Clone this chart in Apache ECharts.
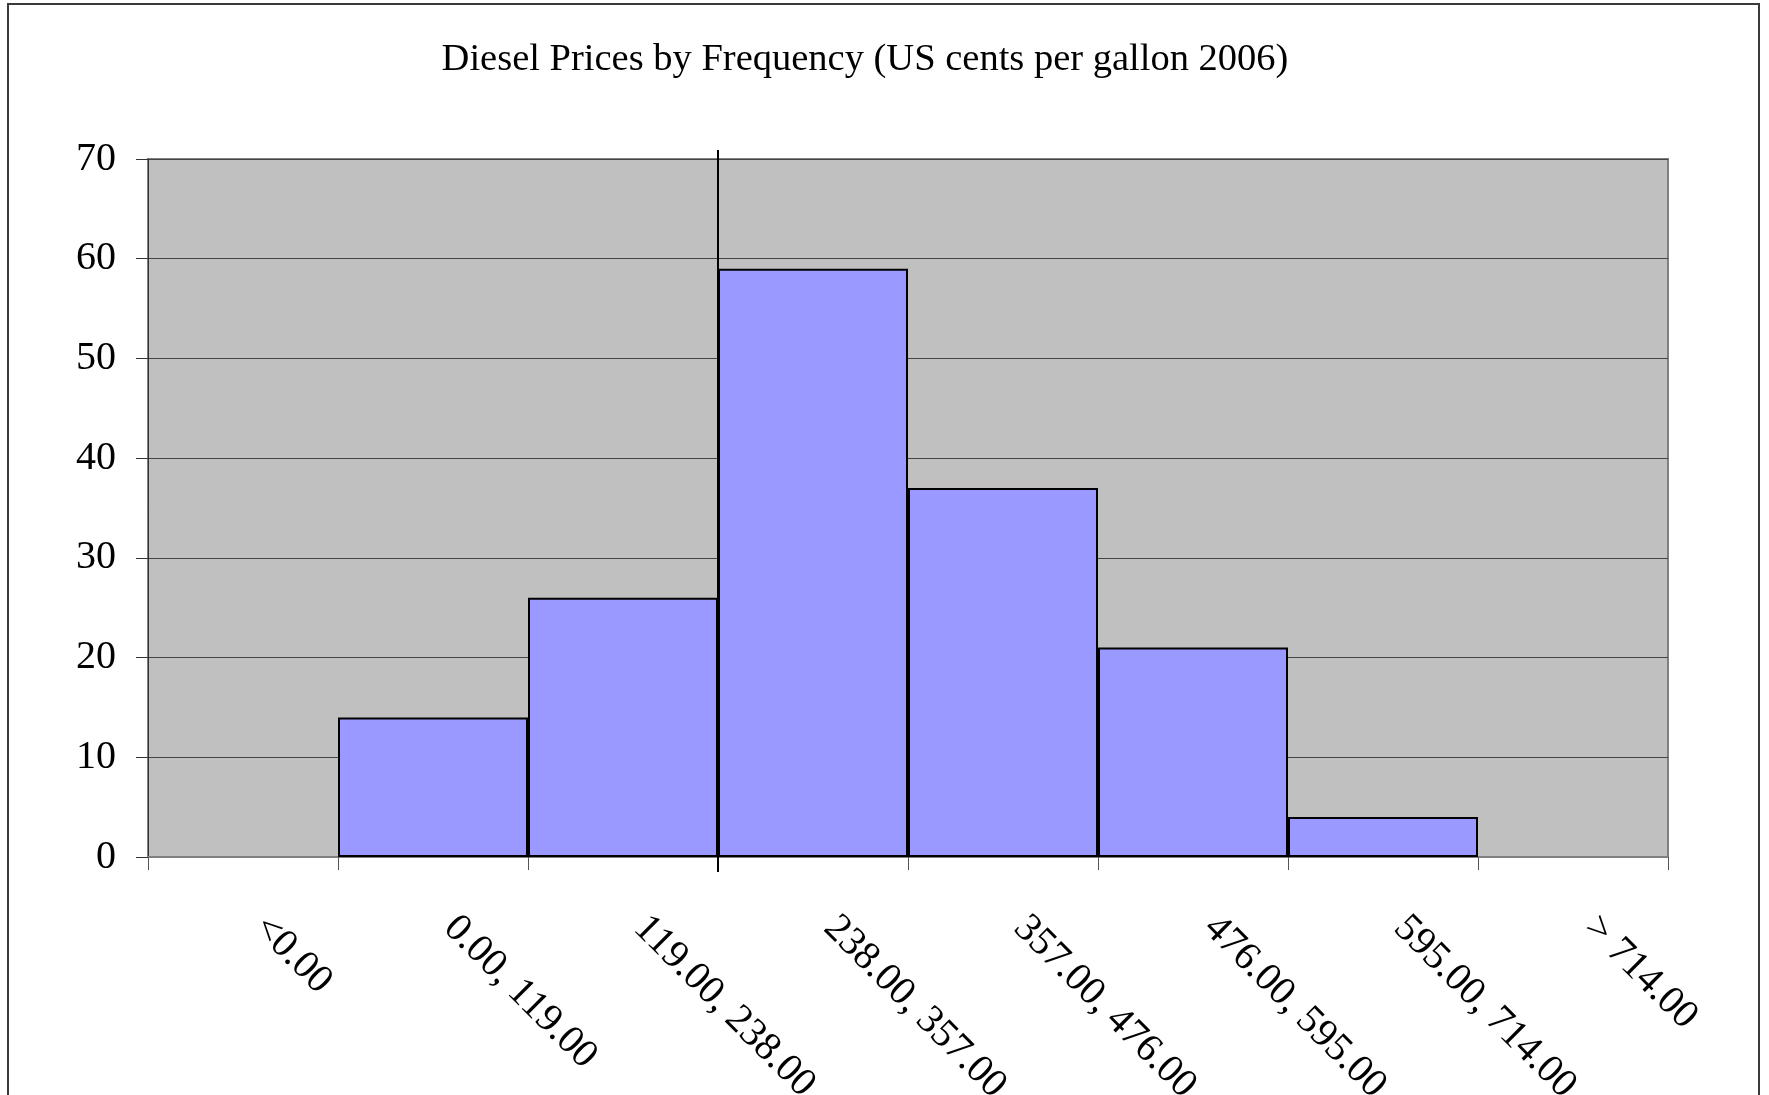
<!DOCTYPE html>
<html>
<head>
<meta charset="utf-8">
<title>Diesel Prices by Frequency</title>
<script src="https://cdn.jsdelivr.net/npm/echarts@6/dist/echarts.min.js"></script>
<style>
  html, body { margin: 0; padding: 0; background: #ffffff; overflow: hidden; }
  #frame {
    position: absolute; left: 7px; top: 3px; width: 1753px; height: 1200px;
    border: 2px solid #3a3a3a; box-sizing: border-box;
  }
  #chart { position: absolute; left: 0; top: 0; width: 1769px; height: 1095px; }
</style>
</head>
<body>
<div id="frame"></div>
<div id="chart"></div>
<script>
// Price bins (US cents per gallon, 2006) and the number of observations in each
const binLabels = ['<0.00', '0.00, 119.00', '119.00, 238.00', '238.00, 357.00',
                   '357.00, 476.00', '476.00, 595.00', '595.00, 714.00', '> 714.00'];
const binCounts = [0, 14, 26, 59, 37, 21, 4, 0];

// Frequency axis ticks
const yTicks = [0, 10, 20, 30, 40, 50, 60, 70];

// Vertical axis line crossing at a category boundary, running a little past both plot edges
const crossBoundary = 3;
const crossSpan = [-1.5, 70.9];

const serif = "'Liberation Serif', 'Times New Roman', serif";

const chart = echarts.init(document.getElementById('chart'), null, { renderer: 'canvas' });

chart.setOption({
  backgroundColor: 'transparent',
  animation: false,
  title: {
    text: 'Diesel Prices by Frequency (US cents per gallon 2006)',
    left: 860,
    textAlign: 'center',
    top: 35,
    textStyle: { fontFamily: serif, fontSize: 38.5, fontWeight: 'normal', color: '#000' }
  },
  grid: {
    left: 148, right: 101, top: 159, bottom: 238,
    containLabel: false,
    outerBoundsMode: 'none',
    show: true, backgroundColor: '#C0C0C0', borderColor: '#808080', borderWidth: 2
  },
  xAxis: [{
    type: 'category',
    data: binLabels,
    boundaryGap: true,
    axisLine: { show: true, lineStyle: { color: '#808080', width: 2 } },
    axisTick: { show: true, alignWithLabel: false, length: 13, lineStyle: { color: '#555', width: 1 } },
    axisLabel: {
      interval: 0, rotate: -45, margin: 48, padding: [0, 0, 0, 24],
      fontFamily: serif, fontSize: 40, color: '#000'
    },
    splitLine: { show: false }
  }, {
    type: 'value', min: 0, max: binLabels.length, show: false
  }],
  yAxis: {
    type: 'value',
    min: yTicks[0], max: yTicks[yTicks.length - 1], interval: 10,
    axisLine: { show: true, lineStyle: { color: '#333', width: 1 } },
    axisTick: { show: true, length: 12, lineStyle: { color: '#333', width: 1 } },
    axisLabel: { margin: 32, fontFamily: serif, fontSize: 40, color: '#000' },
    splitLine: { show: true, lineStyle: { color: '#444', width: 1 } }
  },
  series: [{
    type: 'bar',
    xAxisIndex: 0,
    barCategoryGap: '0%',
    data: binCounts.map(v => v === 0 ? { value: v, itemStyle: { borderWidth: 0 } } : v),
    itemStyle: { color: '#9999FF', borderColor: '#000', borderWidth: 2 },
    z: 3
  }, {
    type: 'line',
    xAxisIndex: 1,
    clip: false,
    silent: true,
    showSymbol: false,
    symbol: 'none',
    z: 5,
    lineStyle: { color: '#000', width: 2 },
    data: crossSpan.map(y => [crossBoundary, y])
  }]
});
</script>
</body>
</html>
